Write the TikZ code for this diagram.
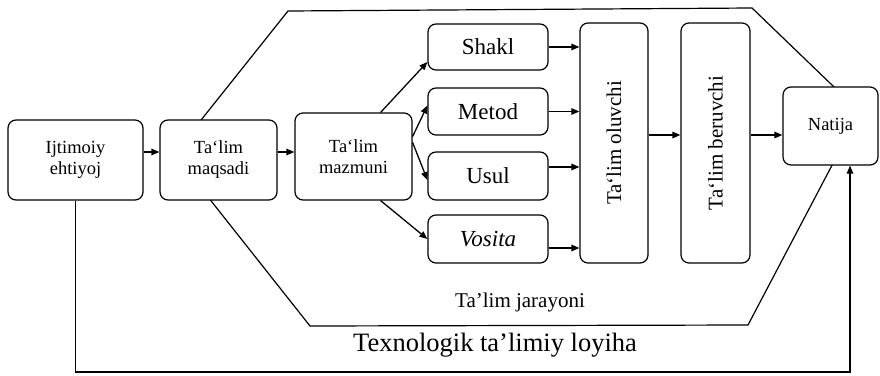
\documentclass[tikz,border=0pt]{standalone}
\usepackage{fontspec}
\setmainfont{Liberation Serif}
\usepackage{graphicx}
\usetikzlibrary{arrows.meta}

\begin{document}
\begin{tikzpicture}[x=1pt, y=-1pt,
    box/.style={draw, rounded corners=8pt, line width=1.2pt, fill=white, align=center, inner sep=0pt},
    smalltxt/.style={font=\fontsize{18.5}{21}\selectfont},
    midtxt/.style={font=\fontsize{23}{26}\selectfont},
    arr/.style={-{Triangle[length=8pt,width=6.5pt]}, line width=1.3pt}]
    \useasboundingbox (0,0) rectangle (880,375);

    % Ta'lim jarayoni (hexagon behind the boxes)
    \draw[line width=1.2pt] (174,154) -- (288,11) -- (752,8) -- (860,112)
        -- (748,325) -- (310,326) -- cycle;

    % Main chain
    \node[box, smalltxt, minimum width=135, minimum height=80] (ijt) at (75.5,160) {Ijtimoiy\\ehtiyoj};
    \node[box, smalltxt, minimum width=117, minimum height=80] (maq) at (218.5,160) {Ta‘lim\\maqsadi};
    \node[box, smalltxt, minimum width=117, minimum height=87] (maz) at (353.5,156.5) {Ta‘lim\\mazmuni};

    % Forms, methods, ways, means
    \node[box, midtxt, minimum width=120, minimum height=46] (sh) at (488,47) {Shakl};
    \node[box, midtxt, minimum width=120, minimum height=47] (met) at (488,111.5) {Metod};
    \node[box, midtxt, minimum width=120, minimum height=48] (usl) at (488,176) {Usul};
    \node[box, midtxt, minimum width=120, minimum height=48] (vos) at (488,239) {\itshape Vosita};

    % Participants
    \node[box, font=\fontsize{21}{24}\selectfont, minimum width=68, minimum height=240] (olu) at (614,143)
        {\rotatebox{90}{Ta‘lim oluvchi}};
    \node[box, font=\fontsize{21}{24}\selectfont, minimum width=69, minimum height=240] (ber) at (715.5,143)
        {\rotatebox{90}{Ta‘lim beruvchi}};
    \node[box, smalltxt, minimum width=95, minimum height=78] (nat) at (830.5,126) {Natija};

    % Labels
    \node[font=\fontsize{21}{24}\selectfont] (jar) at (520,302) {Ta’lim jarayoni};
    \node[font=\fontsize{26.5}{30}\selectfont] (loy) at (495,345) {Texnologik ta’limiy loyiha};

    % Arrows
    \draw[arr] ([yshift=8pt]ijt.east) -- ([yshift=8pt]maq.west);
    \draw[arr] ([yshift=8pt]maq.east) -- ([yshift=4.5pt]maz.west);
    \draw[arr] ([xshift=-32pt]maz.north east) -- ([yshift=-15pt]sh.west);
    \draw[arr] ([yshift=20pt]maz.east) -- ([yshift=6pt]met.west);
    \draw[arr] ([yshift=14pt]maz.east) -- ([yshift=-4pt]usl.west);
    \draw[arr] ([xshift=-32pt]maz.south east) -- (vos.west);
    \draw[arr] (sh.east) -- (sh.east -| olu.west);
    \draw[arr] (met.east) -- (met.east -| olu.west);
    \draw[arr] ([yshift=9pt]usl.east) -- ([yshift=9pt]usl.east -| olu.west);
    \draw[arr] ([yshift=-9pt]vos.east) -- ([yshift=-9pt]vos.east -| olu.west);
    \draw[arr] ([yshift=8pt]olu.east) -- ([yshift=8pt]olu.east -| ber.west);
    \draw[arr] ([yshift=8pt]ber.east) -- ([yshift=8pt]ber.east -| nat.west);

    % Feedback
    \coordinate (br) at (850,372);
    \draw[arr, line width=1.2pt] (ijt.south) |- (br) -- (br |- nat.south);
\end{tikzpicture}
\end{document}
